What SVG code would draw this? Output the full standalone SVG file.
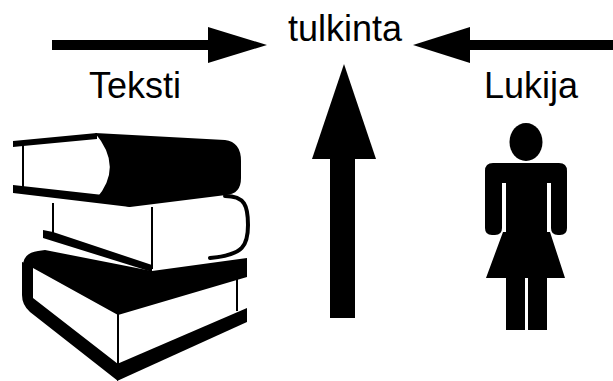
<svg xmlns="http://www.w3.org/2000/svg" width="613" height="381" viewBox="0 0 613 381">
  <style>
    .lbl { font-family: "Liberation Sans", Arial, sans-serif; font-size: 36px; fill: #000; }
    .ink { fill: #000; }
    .line { fill: none; stroke: #000; stroke-linecap: round; stroke-linejoin: round; }
  </style>
  <rect width="613" height="381" fill="#fff"/>

  <!-- connectors: the three thick arrows pointing at "tulkinta" -->
  <g id="connectors" class="ink">
    <g id="arrow-text">
      <rect x="52" y="40" width="158" height="10"/>
      <polygon points="208,27 267,45 208,63"/>
    </g>
    <g id="arrow-reader">
      <rect x="468" y="40" width="145" height="10"/>
      <polygon points="470,27 413,45 470,63"/>
    </g>
    <g id="arrow-up">
      <rect x="330" y="157" width="25" height="161"/>
      <polygon points="344,64 376,159 312,159"/>
    </g>
  </g>

  <!-- interpretation -->
  <g id="tulkinta">
    <text class="lbl" x="288" y="41">tulkinta</text>
  </g>

  <!-- text: label and stack of books -->
  <g id="teksti">
    <text class="lbl" x="89" y="98">Teksti</text>
    <g id="books">
      <!-- top book -->
      <polygon class="ink" points="13,141 97,133 97,139 23,146 13,147"/>
      <path class="ink" d="M95,133 L225,140 Q241,142 241,161 L241,178 Q241,194 226,195 L130,207 L96,199 Q124,167 95,133 Z"/>
      <polygon class="ink" points="13,185 130,198 130,207 13,193"/>
      <rect class="ink" x="22" y="145" width="2" height="42"/>
      <!-- middle book -->
      <rect class="ink" x="52" y="203" width="2" height="30"/>
      <polygon class="ink" points="43,230 53,232 152,265 152,272 43,238"/>
      <rect class="ink" x="151" y="207" width="2" height="62"/>
      <path class="line" stroke-width="4" d="M225,196 C245,196 248,206 248,225 C248,245 244,255 210,258"/>
      <!-- bottom book -->
      <path class="ink" d="M23,266 Q23,253 38,251 L45,250 L152,271 L247,258 L247,277 L118,315 L33,268 Z"/>
      <path class="ink" d="M22,262 L33,266 L33,298 L118,364 L118,381 L30,312 Q22,305 22,295 Z"/>
      <polygon class="ink" points="117,364 247,308 247,322 117,381"/>
      <rect class="ink" x="117" y="312" width="2" height="53"/>
      <rect class="ink" x="236" y="275" width="2" height="36"/>
    </g>
  </g>

  <!-- reader: label and figure -->
  <g id="lukija">
    <text class="lbl" x="484" y="98">Lukija</text>
    <g id="reader-figure" class="ink">
      <ellipse cx="526" cy="142" rx="16.5" ry="19"/>
      <path d="M493,163 L559,163 Q567,163 567,171 L567,228 Q567,235 560,235 L558,235 Q551,235 551,228 L551,183 L547,183 L547,232 L550,232 L565,278 L547,278 L547,330 L528,330 L528,278 L525,278 L525,330 L506,330 L506,278 L486,278 L503,232 L506,232 L506,183 L502,183 L502,228 Q502,235 495,235 L492,235 Q485,235 485,228 L485,171 Q485,163 493,163 Z"/>
    </g>
  </g>
</svg>
